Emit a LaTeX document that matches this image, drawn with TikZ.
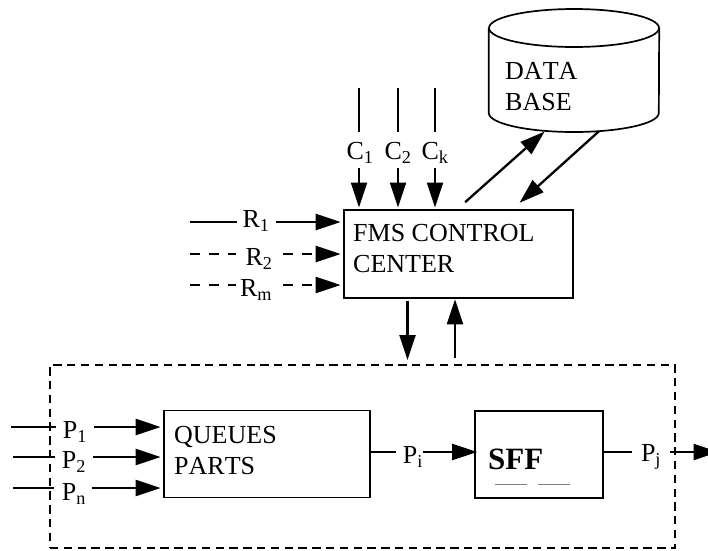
\documentclass[tikz,border=0pt]{standalone}
\usepackage{fontspec}
\setmainfont{Liberation Serif}[Kerning=Off]
\usetikzlibrary{arrows.meta, positioning, shapes.geometric}

\tikzset{
    block/.style={draw, line width=1.7pt, minimum width=#1, minimum height=87pt, inner sep=0pt},
    boxtext/.style={align=left, font=\fontsize{26}{31}\selectfont, inner sep=0pt},
    sig/.style={font=\fontsize{26}{28}\selectfont, inner sep=0pt},
    wire/.style={line width=2.3pt},
    dashwire/.style={line width=2.3pt, dash pattern=on 10pt off 9pt},
    arr/.style={line width=2.3pt, -{Triangle[length=25pt,width=16pt]}, shorten >=2.5pt},
    dasharr/.style={arr, dash pattern=on 10pt off 9pt}
}

\begin{document}
\begin{tikzpicture}[x=1pt, y=-1pt]
    \useasboundingbox (0,0) rectangle (708,550);

    % blocks
    \node[block=229pt, minimum height=88pt] (fms) at (458.5,254) {};
    \node[block=206pt] (queues) at (267,454) {};
    \node[block=128pt] (sff) at (539,454.5) {};
    \node[draw, line width=2pt, dash pattern=on 8.3pt off 5.5pt, minimum width=625pt, minimum height=183pt, inner sep=0pt] (fmsframe) at (362.5,456.5) {};

    % data base drum
    \node[minimum width=170pt, minimum height=122pt, inner sep=0pt] (db) at (574,70) {};
    \draw[line width=1.7pt] (db.west |- 0,28) -- (db.west |- 0,113)
        arc[start angle=180, end angle=360, x radius=85pt, y radius=19pt] -- (db.east |- 0,28);
    \draw[line width=1.7pt] (db.center |- 0,28) ellipse [x radius=85pt, y radius=19pt];

    \node[boxtext, anchor=west] (fmstext) at (353,249) {FMS CONTROL\\CENTER};
    \node[boxtext, anchor=west] (queuestext) at (174,451) {QUEUES\\PARTS};
    \node[boxtext, anchor=west] (dbtext) at (505,87) {DATA\\BASE};
    \node[anchor=base west, inner sep=0pt, font=\bfseries\fontsize{31}{34}\selectfont] (sfftext) at (488,469) {SFF};
    \draw[line width=1pt, gray] (495,484.7) -- (527,484.7) (538,484.7) -- (570,484.7);

    % R inputs
    \node[sig] (r1) at (256,221) {R\textsubscript{1}};
    \node[sig] (r2) at (259,259) {R\textsubscript{2}};
    \node[sig] (rm) at (256,290) {R\textsubscript{m}};
    \coordinate (r1in) at (190,222);
    \coordinate (r2in) at (190,254);
    \coordinate (rmin) at (190,285);
    \draw[wire] (r1in) -- (237,222);
    \draw[dashwire] (r2in) -- (236,254);
    \draw[dashwire] (rmin) -- (236,285);
    \draw[arr] (276,222) -- (fms.west |- r1in);
    \draw[dasharr] (283,254) -- (fms.west |- r2in);
    \draw[dasharr] (283,285) -- (fms.west |- rmin);

    % C inputs
    \node[sig] (c1) at (360,153) {C\textsubscript{1}};
    \node[sig] (c2) at (398,153) {C\textsubscript{2}};
    \node[sig] (ck) at (435,153) {C\textsubscript{k}};
    \foreach \name/\xpos in {c1/359, c2/398, ck/435} {
        \coordinate (\name top) at (\xpos,88);
        \draw[wire] (\name top) -- (\xpos,132);
        \draw[arr] (\xpos,168) -- (\xpos,210);
    }

    % data base links
    \draw[arr, shorten >=0.5pt] ([shift={(122,-7)}]fms.north west) -- ([shift={(-29,0)}]db.south);
    \draw[arr, shorten >=0.5pt] ([shift={(25,0)}]db.south) -- ([shift={(176,-6)}]fms.north west);

    % control links
    \draw[arr, shorten <=2pt, shorten >=4pt] ([xshift=-51pt]fms.south) -- ([xshift=-51pt]fms.south |- fmsframe.north);
    \draw[arr, shorten >=0.5pt] ([xshift=-3.5pt]fms.south |- 0,358) -- ([xshift=-3.5pt]fms.south);

    % P inputs
    \node[sig] (p1) at (75,432) {P\textsubscript{1}};
    \node[sig] (p2) at (74,462) {P\textsubscript{2}};
    \node[sig] (pn) at (74,494) {P\textsubscript{n}};
    \coordinate (p1in) at (11,427);
    \coordinate (p2in) at (13,457);
    \coordinate (pnin) at (13,488);
    \draw[wire] (p1in) -- (56,427);
    \draw[wire] (p2in) -- (55,457);
    \draw[wire] (pnin) -- (54,488);
    \draw[arr] (94,427) -- (queues.west |- p1in);
    \draw[arr] (93,457) -- (queues.west |- p2in);
    \draw[arr] (92,488) -- (queues.west |- pnin);

    % part flow
    \node[sig] (pi) at (413,457) {P\textsubscript{i}};
    \node[sig] (pj) at (651,457) {P\textsubscript{j}};
    \coordinate (pjout) at (721,452);
    \draw[wire] (queues.east |- 0,452) -- (396,452);
    \draw[arr, shorten >=-3pt] (423,452) -- (sff.west |- 0,452);
    \draw[wire] (sff.east |- 0,452) -- (632,452);
    \draw[arr] (670,452) -- (pjout);
\end{tikzpicture}
\end{document}
